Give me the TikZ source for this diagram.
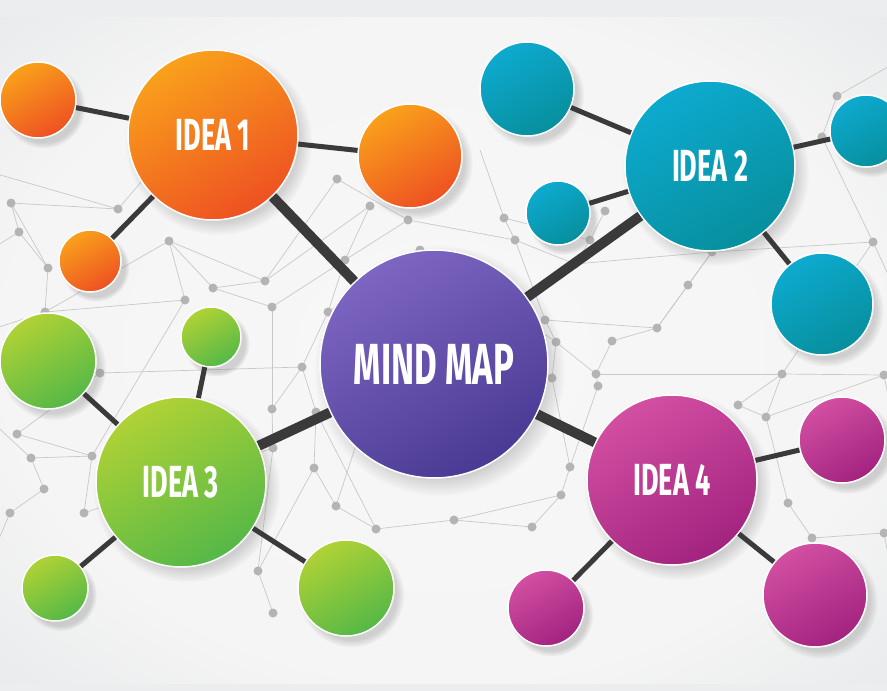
\documentclass[tikz,border=0pt]{standalone}
\usepackage{fontspec}
\newfontfamily\ideafont[FakeStretch=0.6]{Fira Sans}
\usetikzlibrary{shadows}

\definecolor{orangeA}{HTML}{F9A11B}
\definecolor{orangeB}{HTML}{EE5122}
\definecolor{tealA}{HTML}{0DAACF}
\definecolor{tealB}{HTML}{078F9D}
\definecolor{purpleA}{HTML}{7D66C2}
\definecolor{purpleB}{HTML}{4A3A94}
\definecolor{greenA}{HTML}{B0D235}
\definecolor{greenB}{HTML}{55B847}
\definecolor{pinkA}{HTML}{D24FA2}
\definecolor{pinkB}{HTML}{A2237F}
\definecolor{linkgray}{HTML}{3A3A3A}
\definecolor{netgray}{HTML}{C8C8C8}
\definecolor{dotgray}{HTML}{B4B4B4}
\definecolor{stripgray}{HTML}{ECEDEF}
\definecolor{bgmid}{HTML}{DCDFE2}
\definecolor{bgcorner}{HTML}{B6BBC1}

\pgfdeclareradialshading{bgshade}{\pgfpoint{0bp}{0bp}}{color(0bp)=(white!97!black);
  color(25bp)=(white!96!black); color(48bp)=(bgmid); color(71bp)=(bgcorner)}

\tikzset{
  ball/.style={circle,draw=white,line width=1.5pt,inner sep=0pt,text=white,
    font=\ideafont\bfseries\fontsize{45}{45}\selectfont,
    circular drop shadow={shadow xshift=5pt,shadow yshift=-6pt,opacity=.32}},
  orangeball/.style={ball,top color=orangeA,bottom color=orangeB,shading angle=30},
  tealball/.style={ball,top color=tealA,bottom color=tealB,shading angle=30},
  purpleball/.style={ball,top color=purpleA,bottom color=purpleB,shading angle=30},
  greenball/.style={ball,top color=greenA,bottom color=greenB,shading angle=30},
  pinkball/.style={ball,top color=pinkA,bottom color=pinkB,shading angle=30},
  link/.style={draw=linkgray,line width=5pt},
  mainlink/.style={draw=linkgray,line width=10pt},
  netline/.style={draw=netgray,line width=0.7pt},
}

\begin{document}
\begin{tikzpicture}[x=1pt,y=-1pt]
\useasboundingbox (0,0) rectangle (887,691);

% background
\fill[stripgray] (0,0) rectangle (887,691);
\shade[shading=bgshade] (0,17) rectangle (887,683);

% network of dots
\begin{scope}
\clip (0,17) rectangle (887,683);
\foreach \n/\x/\y in {d1/11/203,d2/19/232,d3/118/209,d4/48/268,d5/169/241,d6/45/312,
    d7/213/288,d8/185/300,d9/265/281,d10/272/307,d11/337/179,d12/370/206,d13/408/220,
    d14/345/260,d15/328/312,d16/420/250,d17/100/373,d18/17/434,d19/31/458,d20/92/456,
    d21/44/489,d22/10/513,d23/84/513,d24/302/367,d25/272/409,d26/316/412,d27/273/448,
    d28/314/468,d29/336/506,d30/376/529,d31/258/571,d32/273/613,d33/504/218,d34/605/211,
    d35/515/240,d36/590/240,d37/575/264,d38/712/252,d39/688/285,d40/873/242,d41/837/96,
    d42/822/137,d43/545/320,d44/657/328,d45/612/341,d46/556/342,d47/596/374,d48/598/386,
    d49/782/374,d50/738/405,d51/766/417,d52/884/375,d53/570/467,d54/561/495,d55/454/520,
    d56/532/527,d57/788/503,d58/812/538,d59/884/533,d60/552/378,
    e1/-10/172,e2/-10/250,e3/-10/330,e4/-10/420,e5/900/60,e6/900/300,e7/900/460,
    e8/-10/560,e9/900/620,e10/160/160,e11/480/150}
  \coordinate (\n) at (\x,\y);
\foreach \a/\b in {e1/d3,d1/d3,d1/d2,d1/d4,d2/d4,e2/d2,d4/d6,d6/d8,d6/d5,d5/d8,d5/d9,
    d5/d7,d7/d9,d7/d10,d9/d11,d9/d12,d10/d14,d12/d14,d13/d14,d11/d13,d14/d15,d15/d16,
    e10/d3,d6/d17,d17/d18,d17/d24,e3/d6,d18/d20,d19/d20,d19/d21,d21/d22,d20/d23,e4/d19,
    d23/d27,d24/d25,d24/d26,d25/d27,d26/d28,d27/d31,d28/d29,d29/d30,d30/d26,d31/d32,
    d31/d28,d15/d24,d10/d25,e8/d22,d8/d20,
    e11/d33,d33/d35,d33/d36,d34/d36,d35/d37,d36/d37,d35/d43,d37/d38,d38/d39,d38/d44,
    d39/d44,d43/d44,d43/d46,d44/d45,d45/d47,d46/d47,d47/d48,d48/d53,d47/d49,d49/d50,
    d49/d51,d50/d51,d51/d52,d49/d52,d40/d38,d40/d49,d41/d42,d42/d40,e5/d41,e6/d40,
    d53/d54,d54/d55,d55/d56,d54/d56,d57/d58,d58/d59,d57/d51,d16/d46,d60/d46,d60/d53,
    e7/d52,e9/d59,d30/d55,d13/d35,d16/d29}
  \draw[netline] (\a) -- (\b);
\foreach \n in {1,...,60}
  \fill[dotgray] (d\n) circle (4.5);
\end{scope}

% circles
\node[purpleball,minimum size=228pt,font=\ideafont\bfseries\fontsize{58}{58}\selectfont] (map) at (434,364) {MIND MAP};

\node[orangeball,minimum size=170pt] (idea1) at (213,135) {IDEA 1};
\node[orangeball,minimum size=76pt] (o1) at (38,100) {};
\node[orangeball,minimum size=104pt] (o2) at (410,156) {};
\node[orangeball,minimum size=62pt] (o3) at (90,261) {};

\node[tealball,minimum size=170pt] (idea2) at (710,166) {IDEA 2};
\node[tealball,minimum size=94pt] (t1) at (527,89) {};
\node[tealball,minimum size=64pt] (t2) at (558,213) {};
\node[tealball,minimum size=72pt] (t3) at (866,131) {};
\node[tealball,minimum size=102pt] (t4) at (822,304) {};

\node[greenball,minimum size=170pt] (idea3) at (181,482) {IDEA 3};
\node[greenball,minimum size=96pt] (g1) at (48,361) {};
\node[greenball,minimum size=60pt] (g2) at (211,337) {};
\node[greenball,minimum size=66pt] (g3) at (55,588) {};
\node[greenball,minimum size=96pt] (g4) at (346,588) {};

\node[pinkball,minimum size=170pt] (idea4) at (672,480) {IDEA 4};
\node[pinkball,minimum size=86pt] (m1) at (842,440) {};
\node[pinkball,minimum size=76pt] (m2) at (546,608) {};
\node[pinkball,minimum size=104pt] (m3) at (815,595) {};

% connectors
\foreach \i in {1,2,3,4}
  \draw[mainlink] (map) -- (idea\i);
\foreach \i in {1,2,3}
  \draw[link] (idea1) -- (o\i);
\foreach \i in {1,2,3,4}
  \draw[link] (idea2) -- (t\i);
\foreach \i in {1,2,3,4}
  \draw[link] (idea3) -- (g\i);
\foreach \i in {1,2,3}
  \draw[link] (idea4) -- (m\i);
\end{tikzpicture}
\end{document}
